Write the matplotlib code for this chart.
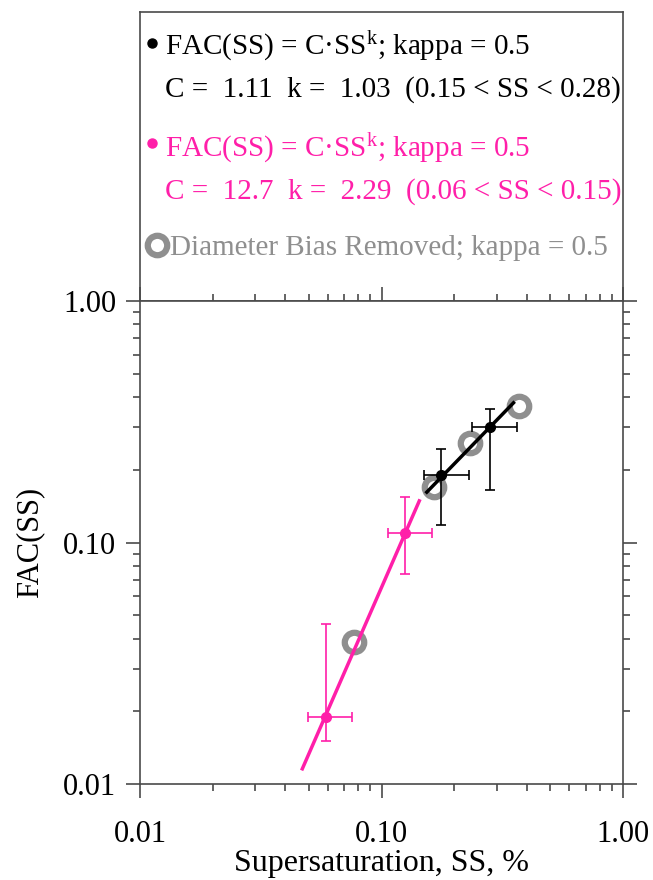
import numpy as np
import matplotlib
matplotlib.use('Agg')
import matplotlib.pyplot as plt
from matplotlib.ticker import FixedLocator, FuncFormatter, NullFormatter, LogLocator

plt.rcParams['font.family'] = 'Liberation Serif'
plt.rcParams['mathtext.fontset'] = 'custom'
plt.rcParams['mathtext.rm'] = 'Liberation Serif'
plt.rcParams['mathtext.it'] = 'Liberation Serif:italic'

# black fit, kappa = 0.5 (0.15 < SS < 0.28)
ss_blk = [0.177, 0.281]
fac_blk = [0.190, 0.302]
ss_blk_lo = [0.150, 0.236]
ss_blk_hi = [0.231, 0.363]
fac_blk_lo = [0.118, 0.165]
fac_blk_hi = [0.243, 0.356]
C_blk, k_blk = 1.11, 1.03
line_blk = [0.154, 0.352]

# pink fit (0.06 < SS < 0.15)
ss_pnk = [0.0587, 0.1251]
fac_pnk = [0.0190, 0.1098]
ss_pnk_lo = [0.0495, 0.1061]
ss_pnk_hi = [0.0757, 0.1624]
fac_pnk_lo = [0.0151, 0.0741]
fac_pnk_hi = [0.0460, 0.1543]
C_pnk, k_pnk = 12.7, 2.29
line_pnk = [0.047, 0.1434]

# diameter bias removed
ss_gry = [0.0772, 0.165, 0.2326, 0.372]
fac_gry = [0.0388, 0.170, 0.259, 0.3675]

pink = '#ff1fa9'
gray = '#8f8f8f'
axcol = '#4a4a4a'

fig = plt.figure(figsize=(6.53, 8.80), dpi=100)

# legend box
axl = fig.add_axes([140/653, 1-301/880, 483/653, 289/880])
axl.set_xlim(0, 483)
axl.set_ylim(289, 0)
axl.set_xticks([])
axl.set_yticks([])
for s in axl.spines.values():
    s.set_color(axcol)
    s.set_linewidth(1.2)

fs = 21
axl.plot(12, 31, 'o', color='k', ms=6.5)
axl.text(25, 34, 'FAC(SS) = C·SS$^{\\mathrm{k}}$; kappa = 0.5', fontsize=fs, color='k', va='center')
axl.text(25, 78, 'C =  %.2f  k =  %.2f  (0.15 < SS < 0.28)' % (C_blk, k_blk), fontsize=fs, color='k', va='center')
axl.plot(12, 131, 'o', color=pink, ms=6.5)
axl.text(25, 136, 'FAC(SS) = C·SS$^{\\mathrm{k}}$; kappa = 0.5', fontsize=fs, color=pink, va='center')
axl.text(25, 180, 'C =  %.1f  k =  %.2f  (0.06 < SS < 0.15)' % (C_pnk, k_pnk), fontsize=fs, color=pink, va='center')
axl.plot(17, 233, 'o', mfc='none', mec=gray, ms=14, mew=4.5)
axl.text(30, 236, 'Diameter Bias Removed; kappa = 0.5', fontsize=fs, color=gray, va='center')

# main plot
ax = fig.add_axes([140/653, 96/880, 483/653, 483/880])
ax.set_xscale('log')
ax.set_yscale('log')
ax.set_xlim(0.01, 1.0)
ax.set_ylim(0.01, 1.0)

xb = np.array(line_blk)
ax.plot(xb, C_blk * xb**k_blk, color='k', lw=2.5, zorder=3)
xp = np.array(line_pnk)
ax.plot(xp, C_pnk * xp**k_pnk, color=pink, lw=2.5, zorder=3)

ax.plot(ss_gry, fac_gry, 'o', mfc='none', mec=gray, ms=14, mew=4.5, zorder=2)

def err(x, lo, hi):
    x = np.array(x)
    return [x - np.array(lo), np.array(hi) - x]

ax.errorbar(ss_blk, fac_blk, xerr=err(ss_blk, ss_blk_lo, ss_blk_hi),
            yerr=err(fac_blk, fac_blk_lo, fac_blk_hi), fmt='o', color='k',
            ms=7, elinewidth=1.2, capsize=3.5, capthick=1.2, zorder=4)
ax.errorbar(ss_pnk, fac_pnk, xerr=err(ss_pnk, ss_pnk_lo, ss_pnk_hi),
            yerr=err(fac_pnk, fac_pnk_lo, fac_pnk_hi), fmt='o', color=pink,
            ms=7, elinewidth=1.2, capsize=3.5, capthick=1.2, zorder=4)

for a in (ax.xaxis, ax.yaxis):
    a.set_major_locator(FixedLocator([0.01, 0.1, 1.0]))
    a.set_minor_locator(LogLocator(base=10, subs=np.arange(2, 10), numticks=10))
    a.set_major_formatter(FuncFormatter(lambda v, p: '%.2f' % v))
    a.set_minor_formatter(NullFormatter())

ax.tick_params(which='both', direction='out', top=True, right=True,
               labeltop=False, labelright=False, color=axcol, labelsize=22)
ax.tick_params(which='major', length=10, width=1.2)
ax.tick_params(which='minor', length=5, width=1.2)
ax.tick_params(axis='x', which='major', pad=16)
ax.tick_params(axis='y', which='major', pad=7)
for s in ax.spines.values():
    s.set_color(axcol)
    s.set_linewidth(1.2)

ax.set_xlabel('Supersaturation, SS, %', fontsize=23, labelpad=0)
ax.set_ylabel('FAC(SS)', fontsize=22, labelpad=14)

fig.savefig('out.png', dpi=100)
